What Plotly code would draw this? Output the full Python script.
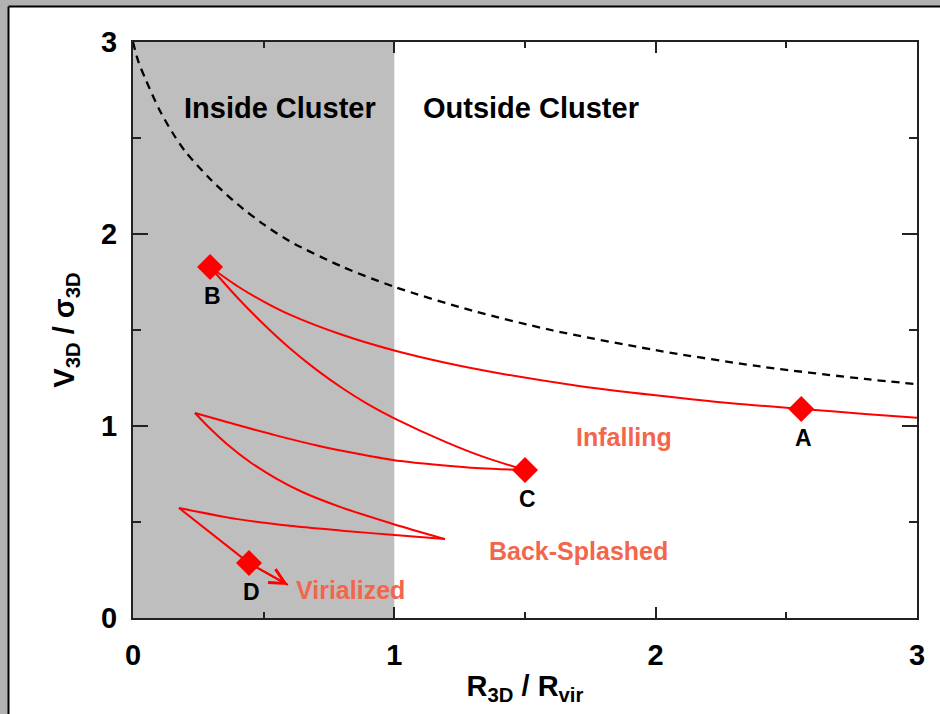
import plotly.graph_objects as go

# ---------------- data ----------------
# escape-velocity style dashed curve
dash_x = [0.0, 0.02, 0.05, 0.10, 0.15, 0.20, 0.30, 0.40, 0.50, 0.60, 0.80, 1.00, 1.30, 1.60, 2.00, 2.40, 2.80, 3.00]
dash_y = [3.00, 2.90, 2.80, 2.65, 2.53, 2.43, 2.28, 2.155, 2.05, 1.962, 1.83, 1.725, 1.60, 1.50, 1.395, 1.31, 1.245, 1.218]

# orbit track, split at the turning points
infall_x = [3.0, 2.8, 2.557, 2.3, 2.0, 1.7, 1.4, 1.2, 1.0, 0.8, 0.6, 0.5, 0.4, 0.295]
infall_y = [1.043, 1.063, 1.089, 1.117, 1.16, 1.21, 1.275, 1.328, 1.393, 1.475, 1.58, 1.648, 1.728, 1.828]

out1_x = [0.295, 0.4, 0.5, 0.6, 0.7, 0.8, 0.9, 1.0, 1.2, 1.35, 1.5]
out1_y = [1.828, 1.668, 1.53, 1.405, 1.295, 1.198, 1.113, 1.04, 0.915, 0.835, 0.771]

in2_x = [1.5, 1.33, 1.15, 1.0, 0.85, 0.7, 0.55, 0.4, 0.237]
in2_y = [0.771, 0.78, 0.80, 0.822, 0.858, 0.90, 0.95, 1.005, 1.068]

out2_x = [0.237, 0.3, 0.36, 0.45, 0.55, 0.65, 0.8, 0.995, 1.194]
out2_y = [1.068, 0.98, 0.905, 0.81, 0.725, 0.655, 0.575, 0.49, 0.411]

in3_x = [1.194, 1.0, 0.8, 0.6, 0.4, 0.176]
in3_y = [0.411, 0.432, 0.455, 0.48, 0.515, 0.573]

settle_x = [0.176, 0.444]
settle_y = [0.573, 0.286]

arrow_x = [0.444, 0.593]
arrow_y = [0.286, 0.172]

key_x = [2.557, 0.295, 1.5, 0.444]
key_y = [1.089, 1.828, 0.771, 0.286]
key_labels = ["A", "B", "C", "D"]

x_ticks = [0, 1, 2, 3]
y_ticks = [0, 1, 2, 3]

# ---------------- styling ----------------
RED = "#ff0000"
SALMON = "#f2664b"
FONT = "Liberation Sans, Arial, Helvetica, sans-serif"
W, H = 940, 714
ML, MR, MT, MB = 133, 23, 42, 96
PW, PH = W - ML - MR, H - MT - MB

fig = go.Figure()

fig.add_trace(go.Scatter(x=dash_x, y=dash_y, mode="lines",
                         line=dict(color="black", width=2.3, dash="8px,6px", shape="spline", smoothing=0.8),
                         hoverinfo="skip", showlegend=False))

for sx, sy in [(infall_x, infall_y), (out1_x, out1_y), (in2_x, in2_y),
               (out2_x, out2_y), (in3_x, in3_y), (settle_x, settle_y), (arrow_x, arrow_y)]:
    fig.add_trace(go.Scatter(x=sx, y=sy, mode="lines",
                             line=dict(color=RED, width=2, shape="spline", smoothing=0.8),
                             hoverinfo="skip", showlegend=False))

fig.add_trace(go.Scatter(x=key_x, y=key_y, mode="markers",
                         marker=dict(symbol="diamond", size=20, color=RED, line=dict(width=0)),
                         showlegend=False))

# arrow head at the end of the track
fig.add_annotation(x=arrow_x[1], y=arrow_y[1], ax=arrow_x[0], ay=arrow_y[0],
                   xref="x", yref="y", axref="x", ayref="y", text="",
                   showarrow=True, arrowhead=5, arrowsize=1.5, arrowwidth=2,
                   arrowcolor=RED, standoff=0)

# point letters
for lx, ly, lab in zip(key_x, key_y, key_labels):
    fig.add_annotation(x=lx, y=ly, text="<b>%s</b>" % lab, showarrow=False,
                       yshift=-29, xshift=2, font=dict(family=FONT, size=23, color="black"))

# region and phase labels
big = dict(family=FONT, size=29, color="black")
phase = dict(family=FONT, size=25, color=SALMON)
fig.add_annotation(x=0.5625, y=2.656, text="<b>Inside Cluster</b>", showarrow=False, font=big)
fig.add_annotation(x=1.523, y=2.656, text="<b>Outside Cluster</b>", showarrow=False, font=big)
fig.add_annotation(x=1.879, y=0.943, text="<b>Infalling</b>", showarrow=False, font=phase)
fig.add_annotation(x=1.703, y=0.349, text="<b>Back-Splashed</b>", showarrow=False, font=phase)
fig.add_annotation(x=0.834, y=0.146, text="<b>Virialized</b>", showarrow=False, font=phase)

# shaded inside-cluster region
fig.add_shape(type="rect", xref="x", yref="y", x0=0, x1=1, y0=0, y1=3,
              fillcolor="#bebebe", line=dict(width=0), layer="below")

# window frame (gray strip + dark line on top and left)
def px(xp):
    return (xp - ML) / PW

def py(yp):
    return (H - MB - yp) / PH

fig.add_shape(type="rect", xref="paper", yref="paper", x0=px(0), x1=px(W), y0=py(6), y1=py(0),
              fillcolor="#b2b2b2", line=dict(width=0), layer="above")
fig.add_shape(type="rect", xref="paper", yref="paper", x0=px(0), x1=px(8), y0=py(H), y1=py(0),
              fillcolor="#b2b2b2", line=dict(width=0), layer="above")
fig.add_shape(type="line", xref="paper", yref="paper", x0=px(8.5), x1=px(W), y0=py(6.5), y1=py(6.5),
              line=dict(color="black", width=2), layer="above")
fig.add_shape(type="line", xref="paper", yref="paper", x0=px(8.5), x1=px(8.5), y0=py(H), y1=py(6.5),
              line=dict(color="black", width=2), layer="above")

axis_common = dict(showgrid=False, zeroline=False, showline=True, linecolor="#222",
                   linewidth=2, mirror="ticks", ticks="inside", tickcolor="#222",
                   tickwidth=1.5, tickfont=dict(family=FONT, size=29, color="black", weight="bold"))

fig.update_xaxes(range=[0, 3], tickvals=x_ticks, ticklen=11, ticklabelstandoff=10,
                 minor=dict(ticks="inside", dtick=0.5, ticklen=6, tickcolor="#222", tickwidth=1.5),
                 title=dict(text="<b>R<sub>3D</sub> / R<sub>vir</sub></b>",
                            font=dict(family=FONT, size=29, color="black"), standoff=6),
                 **axis_common)
fig.update_yaxes(range=[0, 3], tickvals=y_ticks, ticklen=15, ticklabelstandoff=8,
                 minor=dict(ticks="inside", dtick=0.5, ticklen=8, tickcolor="#222", tickwidth=1.5),
                 title=dict(text="<b>V<sub>3D</sub> / σ<sub>3D</sub></b>",
                            font=dict(family=FONT, size=29, color="black"), standoff=18),
                 **axis_common)

fig.update_layout(width=W, height=H, margin=dict(l=ML, r=MR, t=MT, b=MB),
                  paper_bgcolor="white", plot_bgcolor="white", showlegend=False)

fig.write_html("out.html")
